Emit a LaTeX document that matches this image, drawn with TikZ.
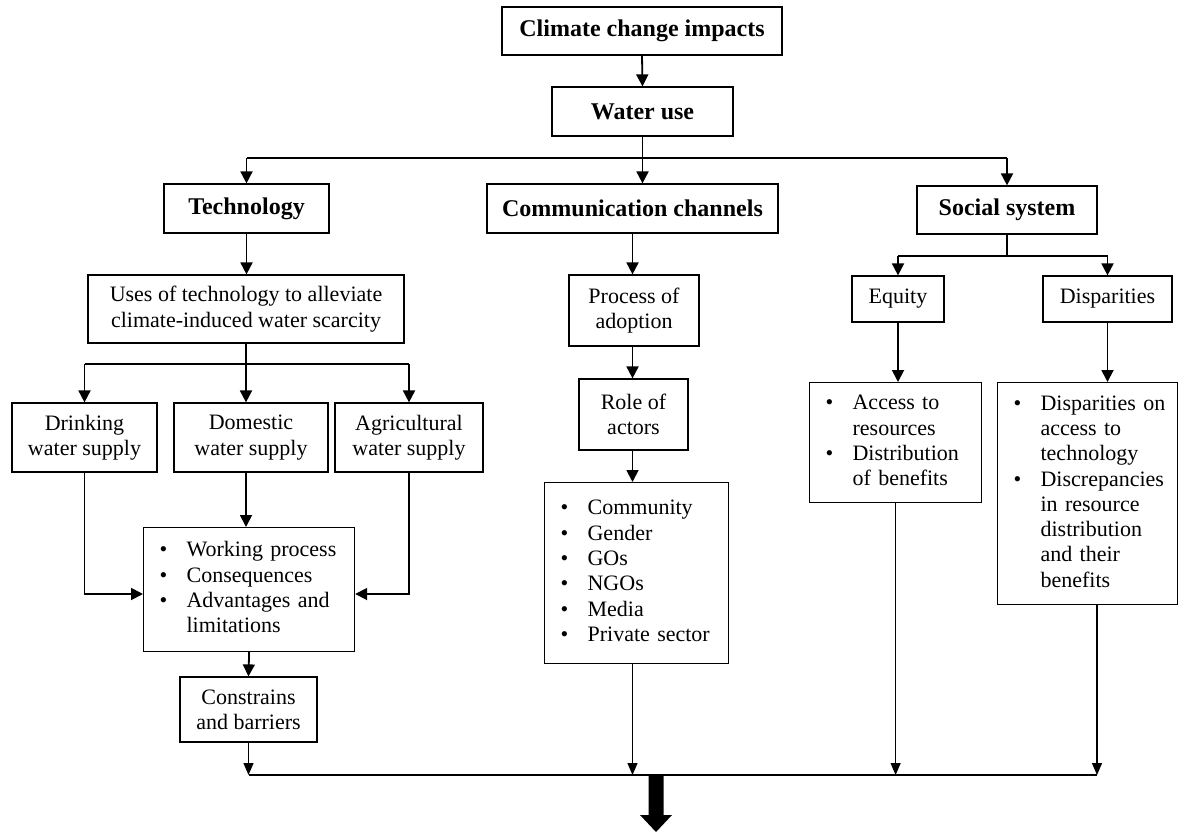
\documentclass[tikz,border=0pt]{standalone}
\usepackage{fontspec}
\setmainfont{Liberation Serif}
\usetikzlibrary{arrows.meta}
\newcommand{\blst}[1]{\begin{tabular}{@{}p{27pt}@{}l@{}}#1\end{tabular}}
\newcommand{\bul}{\textbullet}
\begin{document}
\begin{tikzpicture}[x=1pt,y=-1pt,
  box/.style={draw, line width=1.2pt, inner sep=2pt, align=center, font=\fontsize{22}{25.3}\selectfont},
  hbox/.style={draw, line width=1.2pt, inner sep=2pt, align=center, font=\bfseries\fontsize{24}{27.6}\selectfont},
  lbox/.style={draw, line width=1.2pt, inner xsep=16pt, inner ysep=0pt, align=left, anchor=north west, font=\fontsize{22}{25.3}\selectfont},
  arr/.style={line width=1.8pt, -{Triangle[length=12pt,width=12pt]}},
  ln/.style={line width=1.8pt},
  barr/.style={line width=1.3pt, -{Triangle[length=12pt,width=10pt]}},
  bln/.style={line width=1.5pt}
]
\useasboundingbox (0,0) rectangle (1180,832);
% top
\node[hbox, minimum width=280, minimum height=48] (cci) at (642,31) {Climate change impacts};
\node[hbox, minimum width=181, minimum height=49] (wu) at (642.5,111.5) {Water use};
\node[hbox, minimum width=165, minimum height=49] (tech) at (246.5,208.5) {Technology};
\node[hbox, minimum width=291, minimum height=49] (comm) at (632.5,208.5) {Communication channels};
\node[hbox, minimum width=180, minimum height=48] (soc) at (1007,210) {Social system};
% technology branch
\node[box, minimum width=316, minimum height=68] (uses) at (246,309) {Uses of technology to alleviate\\climate-induced water scarcity};
\node[box, minimum width=145, minimum height=69] (drink) at (84.5,437.5) {Drinking\\water supply};
\node[box, minimum width=154, minimum height=69] (dom) at (251,437.5) {Domestic\\water supply};
\node[box, minimum width=148, minimum height=69] (agr) at (409,437.5) {Agricultural\\water supply};
\node[lbox, text width=179, minimum height=124] (bul1) at (143,527) {\blst{\bul & Working process\\ \bul & Consequences\\ \bul & Advantages and\\ & limitations}};
\node[box, minimum width=137, minimum height=65] (cons) at (248.5,709.5) {Constrains\\and barriers};
% communication branch
\node[box, minimum width=130, minimum height=71] (proc) at (634,310.5) {Process of\\adoption};
\node[box, minimum width=109, minimum height=71] (role) at (633.5,414.5) {Role of\\actors};
\node[lbox, text width=152, minimum height=181] (list) at (544,482) {\blst{\bul & Community\\ \bul & Gender\\ \bul & GOs\\ \bul & NGOs\\ \bul & Media\\ \bul & Private sector}};
% social branch
\node[box, minimum width=92, minimum height=46] (equity) at (898,299) {Equity};
\node[box, minimum width=129, minimum height=46] (disp) at (1107.5,299) {Disparities};
\node[lbox, text width=140, minimum height=120] (eqlist) at (809,382) {\blst{\bul & Access to\\ & resources\\ \bul & Distribution\\ & of benefits}};
\node[lbox, text width=148, minimum height=222] (displist) at (997,382) {\blst{\bul & Disparities on\\ & access to\\ & technology\\ \bul & Discrepancies\\ & in resource\\ & distribution\\ & and their\\ & benefits}};
% coordinates
\coordinate (tb) at (0,158);
\coordinate (ub) at (0,364);
\coordinate (jy) at (0,594);
\coordinate (sy) at (0,256);
\coordinate (by) at (0,775);
\coordinate (br) at (1097,775);
\coordinate (ta) at (656,775);
% connectors top
\draw[arr] (cci.south) -- (wu.north);
\draw[ln] (wu.south) -- (wu.south |- tb);
\draw[ln] (tech.north |- tb) -- (soc.north |- tb);
\draw[arr] (tech.north |- tb) -- (tech.north);
\draw[arr] (wu.south |- tb) -- (wu.south |- comm.north);
\draw[arr] (soc.north |- tb) -- (soc.north);
% technology connectors
\draw[arr] (tech.south) -- (tech.south |- uses.north);
\draw[ln] (uses.south) -- (uses.south |- ub);
\draw[ln] (drink.north |- ub) -- (agr.north |- ub);
\draw[arr] (drink.north |- ub) -- (drink.north);
\draw[arr] (uses.south |- ub) -- (uses.south |- dom.north);
\draw[arr] (agr.north |- ub) -- (agr.north);
\draw[arr] (drink.south -| uses.south) -- (bul1.north -| uses.south);
\draw[arr] (drink.south) |- (bul1.west |- jy);
\draw[arr] (agr.south) |- (bul1.east |- jy);
\draw[arr] (bul1.south) -- (cons.north);
% communication connectors
\draw[arr] (comm.south) -- (comm.south |- proc.north);
\draw[arr] (proc.south -| comm.south) -- (role.north -| comm.south);
\draw[arr] (role.south -| comm.south) -- (list.north -| comm.south);
% social connectors
\draw[ln] (soc.south) -- (soc.south |- sy);
\draw[ln] (equity.north |- sy) -- (disp.north |- sy);
\draw[arr] (equity.north |- sy) -- (equity.north);
\draw[arr] (disp.north |- sy) -- (disp.north);
\draw[arr] (equity.south) -- (equity.south |- eqlist.north);
\draw[arr] (disp.south) -- (disp.south |- displist.north);
% bottom
\draw[barr] (cons.south) -- (cons.south |- by);
\draw[barr] (list.south -| comm.south) -- (comm.south |- by);
\draw[barr] (eqlist.south) -- (eqlist.south |- by);
\draw[barr] (displist.south -| br) -- (br);
\draw[bln] (cons.south |- by) -- (br);
\fill ([xshift=-7.5pt]ta) -- ([xshift=7.5pt]ta) -- ([xshift=7.5pt,yshift=-40pt]ta) -- ([xshift=16pt,yshift=-40pt]ta) -- ([yshift=-57pt]ta) -- ([xshift=-16pt,yshift=-40pt]ta) -- ([xshift=-7.5pt,yshift=-40pt]ta) -- cycle;
\end{tikzpicture}
\end{document}
